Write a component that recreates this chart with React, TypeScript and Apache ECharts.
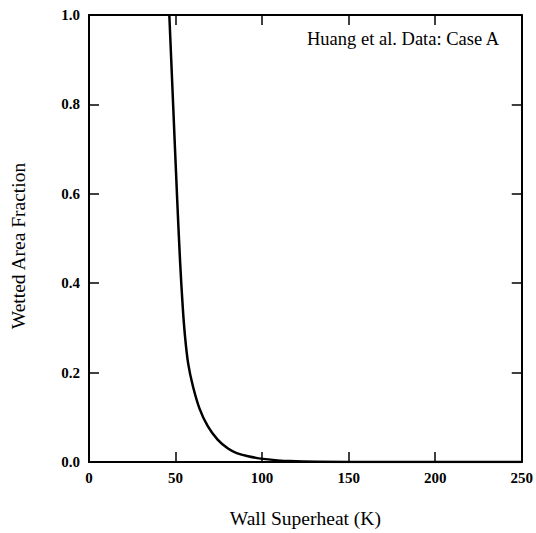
import React, { useEffect, useRef } from "react";
import * as echarts from "echarts";

const superheat = [46.4, 48.6, 50.8, 52.6, 54.1, 55.5, 57.3, 60.0, 63.8, 68.6, 74.3, 80.3, 85.3, 91.9, 100.6, 116, 150, 200, 250];
const wettedFraction = [1.0, 0.8, 0.6, 0.45, 0.35, 0.28, 0.22, 0.17, 0.12, 0.08, 0.05, 0.03, 0.02, 0.013, 0.007, 0.002, 0.0, 0.0, 0.0];
const xTicks = [0, 50, 100, 150, 200, 250];
const yTicks = [0, 0.2, 0.4, 0.6, 0.8, 1.0];
const annotation = "Huang et al. Data: Case A";
const xTitle = "Wall Superheat (K)";
const yTitle = "Wetted Area Fraction";

const FONT = "'Liberation Serif', 'DejaVu Serif', serif";

export default function App() {
  const ref = useRef<HTMLDivElement>(null);
  useEffect(() => {
    if (!ref.current) return;
    const chart = echarts.init(ref.current, null, { renderer: "svg" });
    const axisLine = { show: true, onZero: false, lineStyle: { color: "#000", width: 2 } };
    const axisTick = { show: true, inside: true, length: 10, lineStyle: { color: "#000", width: 1.5 } };
    chart.setOption({
      animation: false,
      backgroundColor: "#fff",
      grid: { left: 89, right: 14, top: 15, bottom: 69, containLabel: false },
      xAxis: [
        {
          type: "value",
          min: xTicks[0],
          max: xTicks[xTicks.length - 1],
          interval: 50,
          position: "bottom",
          axisLine,
          axisTick,
          splitLine: { show: false },
          axisLabel: { color: "#000", fontFamily: FONT, fontSize: 15, fontWeight: "bold", margin: 8 },
          name: xTitle,
          nameLocation: "middle",
          nameGap: 46,
          nameTextStyle: { color: "#000", fontFamily: FONT, fontSize: 19.5 },
        },
        {
          type: "value",
          min: xTicks[0],
          max: xTicks[xTicks.length - 1],
          interval: 50,
          position: "top",
          axisLine,
          axisTick,
          splitLine: { show: false },
          axisLabel: { show: false },
        },
      ],
      yAxis: [
        {
          type: "value",
          min: yTicks[0],
          max: yTicks[yTicks.length - 1],
          interval: 0.2,
          position: "left",
          axisLine,
          axisTick,
          splitLine: { show: false },
          axisLabel: {
            color: "#000",
            fontFamily: FONT,
            fontSize: 15,
            fontWeight: "bold",
            margin: 9,
            formatter: (v: number) => v.toFixed(1),
          },
        },
        {
          type: "value",
          min: yTicks[0],
          max: yTicks[yTicks.length - 1],
          interval: 0.2,
          position: "right",
          axisLine,
          axisTick,
          splitLine: { show: false },
          axisLabel: { show: false },
        },
      ],
      graphic: [
        {
          type: "text",
          left: 307,
          top: 29,
          style: { text: annotation, fill: "#000", font: `18.5px ${FONT}` },
        },
        {
          type: "text",
          x: 18,
          y: 246,
          rotation: Math.PI / 2,
          style: {
            text: yTitle,
            fill: "#000",
            font: `19.5px ${FONT}`,
            align: "center",
            verticalAlign: "middle",
          },
        },
      ],
      series: [
        {
          type: "line",
          data: superheat.map((x, i) => [x, wettedFraction[i]]),
          showSymbol: false,
          smooth: 0.3,
          lineStyle: { color: "#000", width: 2.5 },
          xAxisIndex: 0,
          yAxisIndex: 0,
        },
      ],
    });
    return () => chart.dispose();
  }, []);
  return <div ref={ref} style={{ position: "absolute", left: 0, top: 0, width: 536, height: 533 }} />;
}
